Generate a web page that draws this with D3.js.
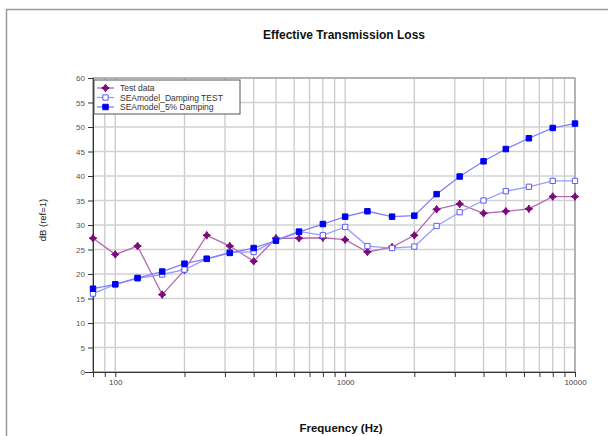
<!DOCTYPE html>
<html>
<head>
<meta charset="utf-8">
<script src="https://cdn.jsdelivr.net/npm/d3@7"></script>
<style>
  body { margin: 0; background: #fff; }
  svg { display: block; font-family: "Liberation Sans", Arial, sans-serif; }
</style>
</head>
<body>
<svg id="chart"></svg>
<script>
// 1/3 octave band centre frequencies
const freqs = [80, 100, 125, 160, 200, 250, 315, 400, 500, 630, 800, 1000,
    1250, 1600, 2000, 2500, 3150, 4000, 5000, 6300, 8000, 10000];

const testData = [27.3, 24.0, 25.7, 15.8, 20.8, 27.9, 25.7, 22.6, 27.3, 27.3, 27.4, 27.0,
    24.5, 25.5, 27.9, 33.2, 34.3, 32.4, 32.8, 33.3, 35.8, 35.8];
const dampingTest = [16.0, 17.9, 19.1, 19.9, 20.9, 23.1, 24.4, 24.5, 26.9, 28.7, 27.9, 29.6,
    25.7, 25.3, 25.6, 29.8, 32.6, 35.0, 36.9, 37.8, 39.0, 39.0];
const damping5 = [17.0, 17.9, 19.2, 20.5, 22.1, 23.1, 24.3, 25.3, 26.8, 28.6, 30.2, 31.7,
    32.8, 31.7, 31.9, 36.3, 39.9, 43.0, 45.5, 47.7, 49.8, 50.7];

const seriesNames = ["Test data", "SEAmodel_Damping TEST", "SEAmodel_5% Damping"];
const xLabelTicks = [100, 1000, 10000];
const yTicks = d3.range(0, 61, 5);

const W = 608, H = 436;
const plot = {left: 93, right: 575, top: 78, bottom: 372};

const svg = d3.select("#chart")
    .attr("width", W)
    .attr("height", H);

svg.append("rect").attr("width", W).attr("height", H).attr("fill", "#fff");

// outer frame (left and top edges only visible)
svg.append("path")
    .attr("d", `M6.5,${H} V9.5 H${W}`)
    .attr("fill", "none")
    .attr("stroke", "#9a9a9a")
    .attr("stroke-width", 1.5);

const x = d3.scaleLog()
    .domain([80, 10000])
    .range([plot.left, plot.right]);

const y = d3.scaleLinear()
    .domain([0, 60])
    .range([plot.bottom, plot.top]);

// all log grid positions
const xGrid = [80, 90];
[100, 1000].forEach(dec => { for (let i = 1; i <= 9; i++) xGrid.push(dec * i); });
xGrid.push(10000);

// grid lines
svg.append("g")
    .selectAll("line")
    .data(xGrid)
    .join("line")
    .attr("x1", d => x(d)).attr("x2", d => x(d))
    .attr("y1", plot.top).attr("y2", plot.bottom)
    .attr("stroke", "#cacaca")
    .attr("stroke-width", 1.3);

svg.append("g")
    .selectAll("line")
    .data(yTicks)
    .join("line")
    .attr("x1", plot.left).attr("x2", plot.right)
    .attr("y1", d => y(d)).attr("y2", d => y(d))
    .attr("stroke", "#d2d2d2")
    .attr("stroke-width", 1.3);

// plot frame
svg.append("rect")
    .attr("x", plot.left).attr("y", plot.top)
    .attr("width", plot.right - plot.left)
    .attr("height", plot.bottom - plot.top)
    .attr("fill", "none")
    .attr("stroke", "#8a8a8a")
    .attr("stroke-width", 1);

// y axis
const yAxis = svg.append("g")
    .attr("transform", `translate(${plot.left},0)`)
    .call(d3.axisLeft(y).tickValues(yTicks).tickSize(5).tickPadding(3));
yAxis.select(".domain").attr("stroke", "#333");
yAxis.selectAll(".tick line").attr("stroke", "#333");
yAxis.selectAll("text").attr("fill", "#555").style("font-size", "8px");

// x axis
const xAxis = svg.append("g")
    .attr("transform", `translate(0,${plot.bottom})`)
    .call(d3.axisBottom(x).tickValues(xGrid).tickSize(5).tickPadding(2)
        .tickFormat(d => xLabelTicks.includes(d) ? d : ""));
xAxis.select(".domain").attr("stroke", "#333").attr("d", `M${plot.left - 8},0.5H${plot.right}`);
xAxis.selectAll(".tick line").attr("stroke", "#333");
xAxis.selectAll("text").attr("fill", "#445").style("font-size", "8px");

// 4-point star used for test data markers
const star4 = {
  draw(ctx, size) {
    const r = Math.sqrt(size) * 0.75, q = r * 0.38;
    ctx.moveTo(0, -r);
    ctx.lineTo(q, -q); ctx.lineTo(r, 0); ctx.lineTo(q, q);
    ctx.lineTo(0, r); ctx.lineTo(-q, q); ctx.lineTo(-r, 0); ctx.lineTo(-q, -q);
    ctx.closePath();
  }
};

const series = [
  {name: seriesNames[0], values: testData, line: "#b36bb3", marker: "#7a0a7a", fill: "#7a0a7a",
   symbol: d3.symbol(star4, 26)},
  {name: seriesNames[1], values: dampingTest, line: "#9a9aff", marker: "#5a5aff", fill: "#fff",
   symbol: d3.symbol(d3.symbolSquare, 28)},
  {name: seriesNames[2], values: damping5, line: "#7f7fff", marker: "#0000f0", fill: "#0000f0",
   symbol: d3.symbol(d3.symbolSquare, 30)}
];

const line = d3.line()
    .x(d => x(d[0]))
    .y(d => y(d[1]));

series.forEach(s => {
  const pts = freqs.map((f, i) => [f, s.values[i]]);
  const g = svg.append("g");
  g.append("path")
      .datum(pts)
      .attr("d", line)
      .attr("fill", "none")
      .attr("stroke", s.line)
      .attr("stroke-width", 1.3);
  g.selectAll("path.m")
      .data(pts)
      .join("path")
      .attr("class", "m")
      .attr("transform", d => `translate(${x(d[0])},${y(d[1])})`)
      .attr("d", s.symbol)
      .attr("fill", s.fill)
      .attr("stroke", s.marker)
      .attr("stroke-width", 1);
});

// legend
const legend = svg.append("g").attr("transform", `translate(${plot.left + 1},80)`);
legend.append("rect")
    .attr("width", 146).attr("height", 34)
    .attr("fill", "#fff")
    .attr("stroke", "#555")
    .attr("stroke-width", 1);

series.forEach((s, i) => {
  const ly = 8 + i * 9.5;
  legend.append("line")
      .attr("x1", 3).attr("x2", 20)
      .attr("y1", ly).attr("y2", ly)
      .attr("stroke", s.line).attr("stroke-width", 1.3);
  legend.append("path")
      .attr("transform", `translate(11.5,${ly})`)
      .attr("d", s.symbol)
      .attr("fill", s.fill)
      .attr("stroke", s.marker);
  legend.append("text")
      .attr("x", 26).attr("y", ly + 3)
      .attr("fill", "#333")
      .style("font-size", "8.5px")
      .text(s.name);
});

// titles
svg.append("text")
    .attr("x", 344).attr("y", 39)
    .attr("text-anchor", "middle")
    .style("font-size", "12px").style("font-weight", "bold")
    .attr("fill", "#111")
    .text("Effective Transmission Loss");

svg.append("text")
    .attr("x", 341).attr("y", 432)
    .attr("text-anchor", "middle")
    .style("font-size", "11.5px").style("font-weight", "bold")
    .attr("fill", "#111")
    .text("Frequency (Hz)");

svg.append("text")
    .attr("transform", "translate(46,220) rotate(-90)")
    .attr("text-anchor", "middle")
    .style("font-size", "9.5px")
    .attr("fill", "#222")
    .text("dB (ref=1)");
</script>
</body>
</html>
